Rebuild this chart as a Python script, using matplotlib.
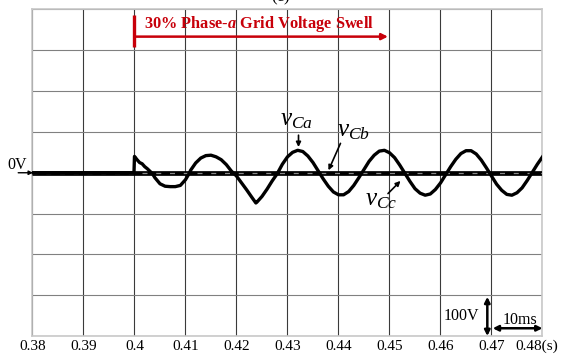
import matplotlib.pyplot as plt
from matplotlib.ticker import MultipleLocator

plt.rcParams['font.family'] = ['Liberation Serif', 'DejaVu Serif']
plt.rcParams['mathtext.fontset'] = 'custom'
plt.rcParams['mathtext.rm'] = 'Liberation Serif'
plt.rcParams['mathtext.it'] = 'Liberation Serif:italic'
plt.rcParams['mathtext.bf'] = 'Liberation Serif:bold:italic'

# phase-a filter capacitor voltage (s, V)
ca_t = [0.380, 0.3999, 0.4000, 0.4005, 0.4010, 0.4015, 0.4020, 0.4025, 0.4030, 0.4035,
        0.404, 0.405, 0.406, 0.407, 0.408, 0.409, 0.410, 0.4108,
        0.411, 0.412, 0.413, 0.414, 0.415, 0.416, 0.417, 0.418, 0.419,
        0.420, 0.421, 0.422, 0.423, 0.4238, 0.424, 0.425, 0.426, 0.427, 0.428,
        0.429, 0.430, 0.431, 0.432, 0.433, 0.434, 0.435, 0.436, 0.437, 0.438, 0.439,
        0.440, 0.441, 0.442, 0.443, 0.444, 0.445, 0.446, 0.447, 0.448, 0.449,
        0.450, 0.451, 0.452, 0.453, 0.454, 0.455, 0.456, 0.457, 0.458, 0.459,
        0.460, 0.461, 0.462, 0.463, 0.464, 0.465, 0.466, 0.467, 0.468, 0.469,
        0.470, 0.471, 0.472, 0.473, 0.474, 0.475, 0.476, 0.477, 0.478, 0.479, 0.480]
ca_v = [0, 0, 40, 32, 25, 22, 15, 10, 4, -2,
        -12, -27, -33, -34, -34, -31, -17, 0,
        6, 24, 36, 42, 43, 39, 32, 20, 4,
        -8, -25, -42, -60, -74, -72, -58, -40, -20, -2,
        21, 39, 50, 55, 52, 41, 25, 5, -15, -33, -47,
        -54, -54, -46, -31, -12, 8, 28, 43, 53, 55,
        49, 37, 19, -1, -21, -39, -50, -55, -52, -41,
        -25, -5, 15, 33, 47, 54, 54, 46, 31, 12,
        -8, -28, -43, -53, -55, -49, -37, -19, 1, 21, 39]

# phases b and c stay at zero
cb_t = [0.38, 0.40, 0.43, 0.48]
cb_v = [0, 0, 0, 0]
cc_t = [0.38, 0.40, 0.43, 0.48]
cc_v = [0, 0, 0, 0]

xticks = [0.38, 0.39, 0.40, 0.41, 0.42, 0.43, 0.44, 0.45, 0.46, 0.47, 0.48]
xlabels = ['0.38', '0.39', '0.4', '0.41', '0.42', '0.43', '0.44', '0.45', '0.46', '0.47', '']

red = '#c8000a'

fig = plt.figure(figsize=(5.62, 3.54), dpi=100)
ax = fig.add_axes([0.0578, 0.0508, 0.9075, 0.9224])

ax.set_xlim(0.38, 0.48)
ax.set_ylim(-400, 400)
ax.set_xticks(xticks)
ax.set_xticklabels(xlabels, fontsize=11)
ax.yaxis.set_major_locator(MultipleLocator(100))
ax.set_yticklabels([])
ax.tick_params(length=0, pad=3)
ax.grid(axis='x', color='#3a3a3a', lw=0.8)
ax.grid(axis='y', color='#808080', lw=0.8)
for s in ax.spines.values():
    s.set_color('#c8c8c8')
    s.set_linewidth(1.2)

ax.text(0.47892, -400 - 3 / 0.408, '0.48(s)', fontsize=11, ha='center', va='top',
        clip_on=False)

# waveforms
ax.plot(cb_t, cb_v, color='black', lw=3.4, solid_capstyle='butt', zorder=3)
ax.plot(cc_t, cc_v, color='#8a8a8a', lw=0.9, dashes=(4, 7), zorder=4)
ax.plot(ca_t, ca_v, color='black', lw=2.4, zorder=5)

# swell marker
ax.plot([0.40, 0.40], [308, 387], color=red, lw=2.4, solid_capstyle='butt', zorder=6)
ax.annotate('', xy=(0.4497, 333.5), xytext=(0.40, 333.5),
            arrowprops=dict(arrowstyle='-|>', color=red, lw=1.8,
                            mutation_scale=9, shrinkA=0, shrinkB=0), zorder=6)
ax.text(0.40186, 354, r'30% Phase-$\mathbf{a}$ Grid Voltage Swell', color=red,
        fontsize=11.8, fontweight='bold', ha='left', va='baseline', zorder=6)

# trace labels
ax.text(0.4286, 117, r'$v_{Ca}$', fontsize=18, ha='left', va='baseline', zorder=7)
ax.text(0.4397, 88, r'$v_{Cb}$', fontsize=18, ha='left', va='baseline', zorder=7)
ax.text(0.4452, -79, r'$v_{Cc}$', fontsize=18, ha='left', va='baseline', zorder=7)
arrow_kw = dict(arrowstyle='-|>', color='black', lw=1.2, mutation_scale=7,
                shrinkA=0, shrinkB=0)
ax.annotate('', xy=(0.43216, 63), xytext=(0.43216, 92), arrowprops=arrow_kw, zorder=7)
ax.annotate('', xy=(0.43804, 6), xytext=(0.44039, 72), arrowprops=arrow_kw, zorder=7)
ax.annotate('', xy=(0.45216, -20), xytext=(0.44971, -51), arrowprops=arrow_kw, zorder=7)

# zero reference
ax.text(0.3750, 9, '0V', fontsize=11.5, ha='left', va='baseline', clip_on=False)
ax.annotate('', xy=(0.3801, 0), xytext=(0.3772, 0), annotation_clip=False,
            arrowprops=dict(arrowstyle='-|>', color='black', lw=1.0,
                            mutation_scale=6, shrinkA=0, shrinkB=0))

# scale bars
dbl = dict(arrowstyle='<|-|>', color='black', lw=1.8, mutation_scale=8,
           shrinkA=0, shrinkB=0)
ax.annotate('', xy=(0.46918, -400), xytext=(0.46918, -304), arrowprops=dbl,
            annotation_clip=False, zorder=7)
ax.annotate('', xy=(0.48, -381), xytext=(0.47024, -381), arrowprops=dbl,
            annotation_clip=False, zorder=7)
ax.text(0.46755, -361, '100V', fontsize=11.5, ha='right', va='baseline', zorder=7)
ax.text(0.4722, -371, '10ms', fontsize=11.5, ha='left', va='baseline', zorder=7)

fig.text(0.5, 353 / 354, '(c)', fontsize=12, ha='center', va='baseline')

fig.savefig('out.png', dpi=100)
